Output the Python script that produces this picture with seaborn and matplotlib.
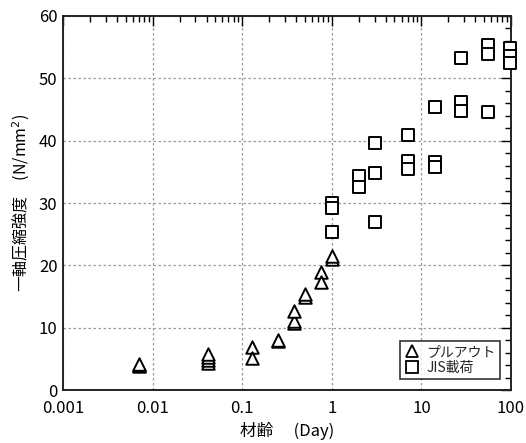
import numpy as np
import pandas as pd
import matplotlib
matplotlib.use("Agg")
import matplotlib.pyplot as plt
from matplotlib.ticker import LogLocator, FixedLocator, MultipleLocator, FixedFormatter, NullFormatter
from matplotlib.lines import Line2D
import seaborn as sns

# プルアウト試験 (材齢[日], 強度[N/mm2])
pull_age = [0.0071, 0.0071, 0.0071,
            0.042, 0.042, 0.042, 0.042,
            0.128, 0.128,
            0.25, 0.25,
            0.38, 0.38, 0.38,
            0.50, 0.50,
            0.75, 0.75,
            1.0, 1.0]
pull_str = [3.8, 4.0, 4.2,
            4.3, 4.8, 5.3, 5.8,
            6.9, 5.2,
            7.8, 8.1,
            10.7, 11.1, 12.7,
            15.0, 15.4,
            18.9, 17.3,
            21.0, 21.5]

# JIS 載荷試験
jis_age = [1.0, 1.0, 1.0,
           2.0, 2.0,
           3.0, 3.0, 3.0,
           7.0, 7.0, 7.0,
           14.0, 14.0, 14.0,
           28.0, 28.0, 28.0,
           56.0, 56.0, 56.0,
           98.0, 98.0, 98.0]
jis_str = [30.0, 29.2, 25.4,
           34.4, 32.6,
           34.8, 27.0, 39.6,
           40.9, 36.8, 35.4,
           45.4, 36.5, 35.7,
           53.3, 46.2, 44.7,
           44.6, 55.4, 53.9,
           54.8, 53.6, 52.5]

series_names = ["プルアウト", "JIS載荷"]
x_ticks = [0.001, 0.01, 0.1, 1, 10, 100]
x_tick_labels = ["0.001", "0.01", "0.1", "1", "10", "100"]
y_ticks = [0, 10, 20, 30, 40, 50, 60]

df = pd.DataFrame({
    "age": pull_age + jis_age,
    "strength": pull_str + jis_str,
    "test": [series_names[0]] * len(pull_age) + [series_names[1]] * len(jis_age),
})

sns.set_theme(style="white")
plt.rcParams["font.family"] = ["Noto Sans CJK JP", "DejaVu Sans"]
plt.rcParams["mathtext.fontset"] = "dejavusans"

fig = plt.figure(figsize=(5.26, 4.43), dpi=100)
ax = fig.add_axes([0.1198, 0.1196, 0.8517, 0.8443])

markers = {series_names[0]: "^", series_names[1]: "s"}
sizes = {series_names[0]: 9.0, series_names[1]: 8.5}
for name in series_names:
    sub = df[df["test"] == name]
    sns.scatterplot(data=sub, x="age", y="strength", marker=markers[name],
                    s=sizes[name] ** 2, facecolor="white", edgecolor="black",
                    linewidth=1.4, ax=ax, legend=False, zorder=3, clip_on=False)

ax.set_xscale("log")
ax.set_xlim(0.001, 100)
ax.set_ylim(0, 60)

ax.xaxis.set_major_locator(FixedLocator(x_ticks))
ax.xaxis.set_major_formatter(FixedFormatter(x_tick_labels))
ax.xaxis.set_minor_locator(LogLocator(base=10, subs=np.arange(2, 10)))
ax.xaxis.set_minor_formatter(NullFormatter())
ax.yaxis.set_major_locator(FixedLocator(y_ticks))
ax.yaxis.set_minor_locator(MultipleLocator(2))

ax.tick_params(which="both", direction="in", top=True, right=True,
               colors="black", labelsize=12)
ax.tick_params(which="major", length=7, width=1.0)
ax.tick_params(which="minor", length=4, width=1.0)
ax.tick_params(axis="x", which="major", pad=7)
ax.tick_params(axis="y", which="major", pad=4)

ax.grid(True, which="major", linestyle=(0, (2, 2)), color="#999999", linewidth=0.9)
for sp in ax.spines.values():
    sp.set_color("#222222")
    sp.set_linewidth(1.4)

ax.set_xlabel("材齢　 (Day)", fontsize=12, color="black", labelpad=4)
ax.set_ylabel("一軸圧縮強度　(N/mm$^2$)", fontsize=11.5, color="black", labelpad=5)

handles = [Line2D([], [], linestyle="none", marker=markers[n], markersize=9,
                  markerfacecolor="white", markeredgecolor="black",
                  markeredgewidth=1.3) for n in series_names]
leg = ax.legend(handles, series_names, loc="lower right", bbox_to_anchor=(0.975, 0.03),
                frameon=True, fancybox=False, fontsize=10, handletextpad=0.4,
                borderpad=0.3, labelspacing=0.1, handlelength=1.2,
                borderaxespad=0)
leg.get_frame().set_edgecolor("black")
leg.get_frame().set_linewidth(1.2)
leg.set_zorder(5)

fig.savefig("out.png", dpi=100)
